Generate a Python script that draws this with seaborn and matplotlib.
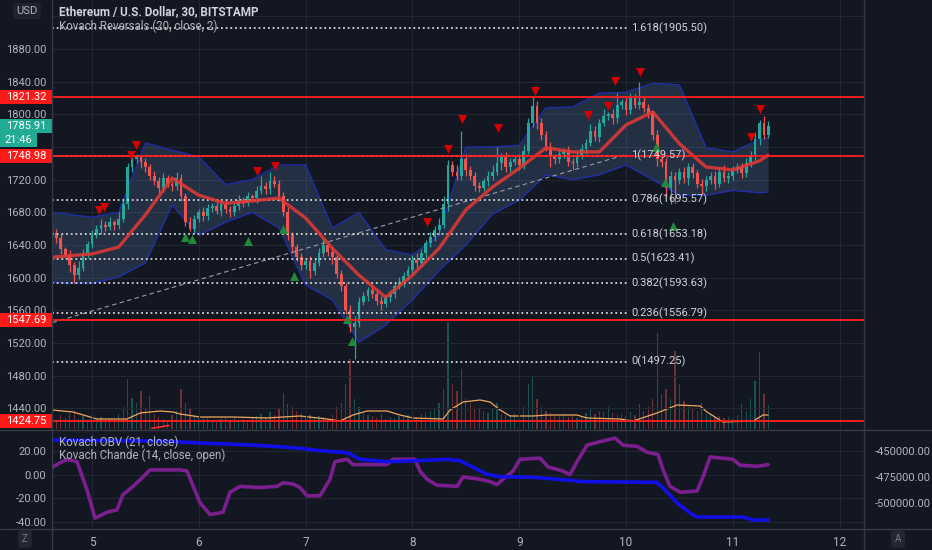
import numpy as np
import pandas as pd
import matplotlib.pyplot as plt
import matplotlib.patches as mpatches
import matplotlib.lines as mlines
from matplotlib.ticker import FormatStrFormatter
import seaborn as sns

# ---- DATA ----
# hourly candles, first one at day 4 15:00
start_day = 4.625
first_open = 1660
closes = [1655, 1648, 1635, 1628, 1615, 1603, 1612, 1630, 1641, 1652, 1660, 1665,
          1662, 1668, 1664, 1672, 1690, 1735, 1745, 1748, 1742, 1735, 1725, 1718,
          1710, 1722, 1715, 1712, 1722, 1700, 1668, 1660, 1672, 1680, 1676, 1685,
          1688, 1682, 1690, 1684, 1680, 1688, 1695, 1692, 1700, 1698, 1706, 1712,
          1708, 1718, 1715, 1700, 1680, 1652, 1638, 1625, 1615, 1620, 1608, 1618,
          1630, 1640, 1632, 1625, 1605, 1590, 1560, 1540, 1545, 1570, 1578, 1585,
          1580, 1572, 1568, 1576, 1580, 1590, 1595, 1602, 1610, 1622, 1618, 1630,
          1642, 1650, 1658, 1665, 1690, 1738, 1730, 1725, 1745, 1732, 1725, 1712,
          1710, 1718, 1725, 1730, 1740, 1748, 1735, 1742, 1745, 1738, 1755, 1790,
          1810, 1790, 1775, 1760, 1748, 1745, 1752, 1755, 1742, 1740, 1750, 1758,
          1765, 1780, 1772, 1790, 1798, 1800, 1796, 1812, 1815, 1805, 1820, 1812,
          1815, 1808, 1800, 1775, 1745, 1742, 1710, 1725, 1720, 1730, 1722, 1735,
          1728, 1715, 1712, 1720, 1725, 1715, 1730, 1722, 1725, 1732, 1735, 1728,
          1740, 1750, 1770, 1790, 1775, 1786]
up_wick = [6, 4, 5, 3, 6, 4, 8, 5, 4, 6, 5, 7,
           4, 6, 3, 8, 5, 6, 8, 4, 2, 5, 4, 6,
           5, 6, 4, 3, 8, 5, 4, 6, 5, 4, 6, 5,
           4, 5, 3, 6, 4, 5, 6, 4, 5, 3, 6, 13,
           5, 12, 6, 4, 5, 6, 4, 3, 5, 4, 6, 5,
           6, 8, 4, 5, 3, 5, 4, 6, 8, 6, 5, 4,
           5, 4, 6, 3, 5, 4, 6, 5, 4, 6, 8, 5,
           4, 6, 5, 8, 10, 6, 5, 8, 35, 6, 5, 4,
           5, 4, 6, 8, 20, 5, 6, 4, 5, 6, 8, 5,
           12, 6, 5, 4, 6, 3, 5, 4, 6, 5, 4, 6,
           5, 8, 6, 4, 8, 3, 6, 14, 4, 8, 6, 5,
           25, 6, 5, 4, 6, 5, 4, 6, 5, 4, 5, 6,
           5, 4, 6, 5, 4, 6, 5, 8, 4, 5, 6, 5,
           6, 5, 8, 3, 8, 6]
low_wick = [8, 5, 6, 4, 8, 10, 5, 4, 6, 5, 4, 6,
            5, 4, 6, 5, 4, 6, 5, 4, 8, 5, 6, 4,
            6, 5, 4, 6, 5, 6, 5, 3, 5, 4, 6, 5,
            5, 4, 6, 5, 6, 4, 5, 6, 4, 5, 6, 4,
            6, 5, 4, 6, 5, 6, 8, 5, 6, 4, 8, 5,
            4, 5, 6, 8, 5, 6, 4, 6, 40, 5, 4, 6,
            5, 6, 8, 4, 6, 5, 4, 6, 5, 4, 6, 5,
            6, 4, 5, 6, 4, 8, 6, 5, 6, 8, 5, 6,
            5, 4, 6, 5, 4, 8, 6, 5, 4, 6, 5, 4,
            5, 8, 6, 5, 12, 6, 4, 6, 5, 8, 4, 5,
            6, 4, 5, 6, 4, 5, 8, 6, 5, 6, 5, 4,
            6, 5, 4, 6, 8, 6, 12, 20, 28, 5, 6, 8,
            6, 5, 10, 6, 5, 6, 4, 5, 6, 5, 4, 6,
            5, 4, 6, 8, 5, 4]
volume = [120, 90, 140, 110, 160, 180, 100, 130, 90, 110, 80, 120,
          90, 110, 80, 150, 220, 500, 310, 260, 380, 200, 330, 150,
          120, 100, 90, 140, 180, 400, 260, 200, 140, 120, 100, 110,
          90, 80, 100, 110, 90, 120, 80, 100, 90, 110, 130, 150,
          120, 170, 140, 200, 360, 250, 220, 180, 160, 120, 140, 110,
          130, 120, 100, 140, 220, 260, 450, 700, 300, 220, 160, 140,
          130, 110, 150, 100, 120, 110, 130, 120, 140, 160, 120, 150,
          170, 180, 200, 260, 400, 1070, 450, 380, 600, 300, 260, 220,
          200, 180, 160, 200, 260, 150, 140, 130, 160, 140, 220, 450,
          520, 300, 220, 180, 160, 140, 130, 150, 120, 140, 110, 130,
          160, 200, 150, 180, 170, 220, 160, 140, 150, 130, 170, 140,
          250, 180, 220, 300, 960, 350, 400, 300, 780, 450, 280, 220,
          200, 180, 260, 150, 140, 120, 130, 110, 120, 100, 140, 250,
          180, 300, 480, 770, 350, 240]

# reversal band (20, close, 2)
band_days = [4.63, 4.75, 5.0, 5.25, 5.5, 5.75, 6.0, 6.25, 6.5, 6.75, 7.0, 7.25, 7.5, 7.75, 8.0,
             8.25, 8.5, 8.75, 9.0, 9.25, 9.5, 9.75, 10.0, 10.25, 10.5, 10.75, 11.0, 11.25, 11.33]
band_upper = [1680, 1678, 1674, 1680, 1765, 1756, 1748, 1714, 1720, 1738, 1738, 1661, 1680, 1634, 1628,
              1652, 1760, 1760, 1762, 1808, 1809, 1826, 1827, 1838, 1836, 1759, 1754, 1769, 1771]
band_lower = [1595, 1593, 1593, 1601, 1618, 1689, 1652, 1668, 1680, 1661, 1591, 1573, 1521, 1542, 1573,
              1609, 1640, 1678, 1695, 1726, 1720, 1726, 1738, 1720, 1701, 1701, 1707, 1704, 1705]
band_ma = [1625, 1626.5, 1629, 1637.5, 1677, 1722, 1701, 1691, 1694, 1697.5, 1673, 1636, 1603, 1576, 1603,
           1636, 1683, 1711, 1734, 1759, 1754, 1754, 1787, 1803, 1764, 1735.5, 1732, 1743, 1750]

# volume moving average
volma_days = [4.625, 4.822, 5.047, 5.328, 5.45, 5.637, 5.758, 5.824, 6.011, 6.32,
              6.638, 6.788, 6.948, 7.2, 7.322, 7.444, 7.575, 7.762, 7.884, 8.006,
              8.287, 8.352, 8.474, 8.633, 8.727, 8.82, 8.914, 9.129, 9.26, 9.541,
              9.635, 9.944, 10.066, 10.29, 10.478, 10.693, 10.758, 10.908, 11.19, 11.283, 11.33]
volma_vals = [190, 170, 100, 100, 160, 180, 170, 150, 120, 120,
              110, 120, 130, 100, 80, 140, 180, 180, 140, 110,
              100, 190, 270, 290, 270, 190, 130, 130, 140, 140,
              110, 100, 80, 160, 240, 230, 170, 70, 80, 140, 140]

# Kovach Chande (14, close, open)
chande_days = [4.625, 4.7, 4.766, 4.86, 4.953, 5.028, 5.14, 5.234, 5.29, 5.384,
               5.478, 5.543, 5.824, 5.89, 6.011, 6.105, 6.227, 6.292, 6.386, 6.573,
               6.732, 6.788, 6.882, 6.948, 7.013, 7.135, 7.228, 7.275, 7.388, 7.444,
               7.762, 7.818, 8.024, 8.071, 8.137, 8.23, 8.418, 8.474, 8.633, 8.727,
               8.792, 8.848, 8.942, 9.007, 9.195, 9.27, 9.41, 9.476, 9.541, 9.635,
               9.757, 9.897, 9.972, 10.103, 10.197, 10.3, 10.347, 10.412, 10.506, 10.665,
               10.721, 10.787, 11.002, 11.067, 11.227, 11.33]
chande_vals = [6, 10, 13, 11, -13, -37, -32, -30, -17, -10,
               -2, 4, 4, 3, -24, -34, -32, -15, -10, -11,
               -10, -7, -8, -11, -18, -18, -4, 11, 13, 8.5,
               8.5, 13, 13, 3, -4, -9, -10, -2, -4, -6,
               -8.5, -4, 3, 13, 14, 6.5, 3, 0, 11, 25,
               28, 31, 25, 24, 19, 17, 4, -10, -15, -14,
               -2, 15, 13, 8, 7, 8.5]

# Kovach OBV (21, close)
obv_days = [4.625, 5.637, 6.011, 6.479, 6.76, 6.948, 7.135, 7.388, 7.51, 7.762,
            8.043, 8.324, 8.446, 8.567, 8.699, 8.82, 9.129, 9.447, 9.597, 10.29,
            10.384, 10.478, 10.6, 10.665, 11.096, 11.19, 11.33]
obv_vals = [-439100, -440100, -442000, -443900, -445600, -447100, -449400, -451300, -457700, -460000,
            -459000, -457700, -459000, -465400, -472100, -474400, -475000, -477600, -479200, -479800,
            -489100, -499700, -509300, -513200, -513200, -516100, -516100]

# reversal markers
rev_down_days = [5.066, 5.112, 5.365, 5.412, 6.545, 6.713, 8.137, 8.333, 8.464,
                 8.801, 9.148, 9.644, 9.831, 9.897, 10.131, 11.17, 11.255]
rev_down_prices = [1683, 1686.5, 1750, 1762, 1730.5, 1736.5, 1668, 1757.5, 1794,
                   1783, 1828.5, 1799, 1810, 1841, 1852, 1772, 1806.5]
rev_up_days = [5.871, 5.936, 6.461, 6.788, 6.891, 7.388, 7.434, 10.281, 10.365, 10.44]
rev_up_prices = [1650, 1647, 1645, 1659.5, 1602, 1549.5, 1522.5, 1760, 1717, 1663]

# fib retracement
fib_levels = ["1.618", "1", "0.786", "0.618", "0.5", "0.382", "0.236", "0"]
fib_prices = [1905.50, 1749.57, 1695.57, 1653.18, 1623.41, 1593.63, 1556.79, 1497.25]
trend_days = [4.63, 9.98]
trend_prices = [1545, 1750]
# small red drawing near the volume baseline
stub_days = [5.56, 5.72]
stub_prices = [1415.5, 1419]

# horizontal levels and axis boxes
level_prices = [1821.32, 1748.98, 1547.69, 1424.75]
last_price = 1785.91
countdown = "21:46"
day_ticks = [5, 6, 7, 8, 9, 10, 11, 12]
price_ticks = list(range(1440, 1921, 40))
hidden_ticks = [1760, 1920]   # covered by the boxes / USD button

# ---- STYLE ----
BG = "#131722"
GRID = "#232733"
SEP = "#363a45"
TXT = "#b2b5be"
UP = "#26a69a"
DOWN = "#ef5350"

sns.set_theme(style="darkgrid", rc={
    "figure.facecolor": BG, "axes.facecolor": BG, "axes.edgecolor": BG,
    "grid.color": GRID, "grid.linewidth": 0.8, "text.color": TXT,
    "xtick.color": TXT, "ytick.color": TXT})
plt.rcParams["font.family"] = ["Roboto", "DejaVu Sans"]

W, H = 932, 550
fig = plt.figure(figsize=(9.32, 5.5), dpi=100)
ax = fig.add_axes([52 / W, 1 - 429 / H, 812 / W, 429 / H])
ax2 = fig.add_axes([52 / W, 1 - 528 / H, 812 / W, 98 / H])
xlim = (4.6255, 12.228)

# ---- PRICE PANEL ----
n = len(closes)
days = start_day + np.arange(n) / 24
cl = np.array(closes, dtype=float)
op = np.array([first_open] + closes[:-1], dtype=float)
highs = np.maximum(op, cl) + np.array(up_wick)
lows = np.minimum(op, cl) - np.array(low_wick)
cols = np.where(cl >= op, UP, DOWN)

# volume on a hidden twin axis, behind the candles
axv = ax.twinx()
axv.bar(days, volume, width=0.28 / 24, color=cols, alpha=0.42, linewidth=0)
sns.lineplot(x=volma_days, y=volma_vals, ax=axv, color="#f2a65a", linewidth=0.9)
axv.set_ylim(0, 4290)
axv.set_yticks([])
axv.grid(False)
axv.set_ylabel("")
ax.set_zorder(axv.get_zorder() + 1)
ax.patch.set_visible(False)

# band
ax.fill_between(band_days, band_lower, band_upper, color="#4f6f9c", alpha=0.28, linewidth=0, zorder=1)
ax.plot(band_days, band_upper, color="#1f2fa8", linewidth=1, zorder=1.5)
ax.plot(band_days, band_lower, color="#1f2fa8", linewidth=1, zorder=1.5)

# candles
ax.vlines(days, lows, highs, colors=cols, linewidth=0.9, zorder=3)
ax.bar(days, np.maximum(np.abs(cl - op), 0.8), bottom=np.minimum(op, cl), width=0.62 / 24,
       color=cols, linewidth=0, zorder=3.1)

# moving average
sns.lineplot(x=band_days, y=band_ma, ax=ax, color="#e53935", linewidth=2.4, alpha=0.85, zorder=4)

# fib lines and labels
yt = ax.get_yaxis_transform()
for lvl, p in zip(fib_levels, fib_prices):
    ax.plot([0, 0.709], [p, p], transform=yt, color="#d6d6d6", linewidth=1.3,
            linestyle=(0, (1, 1.6)), zorder=3.5)
    ax.text(0.713, p, f"{lvl}({p:.2f})", transform=yt, va="center", ha="left",
            fontsize=8, color="#d1d4dc", zorder=6)
ax.plot(trend_days, trend_prices, color="#9a9ea8", linewidth=0.8, linestyle=(0, (4, 3)), zorder=3.4)
ax.plot(stub_days, stub_prices, color="#ff2a2a", linewidth=1.2, zorder=4)

# red horizontal levels
for p in level_prices:
    ax.axhline(p, color="#ff1f1f", linewidth=1.3, zorder=4.5)

# reversal triangles
sns.scatterplot(x=rev_down_days, y=rev_down_prices, ax=ax, marker="v", s=42,
                color="#d50000", linewidth=0, zorder=5)
sns.scatterplot(x=rev_up_days, y=rev_up_prices, ax=ax, marker="^", s=42,
                color="#1f8b3a", linewidth=0, zorder=5)

ax.set_xlim(*xlim)
ax.set_ylim(1414.7, 1940)
ax.set_xticks(day_ticks)
ax.set_yticks(price_ticks)
ax.set_yticklabels(["" if t in hidden_ticks else f"{t:.2f}" for t in price_ticks])
ax.tick_params(axis="x", labelbottom=False, length=0)
ax.tick_params(axis="y", length=0, pad=4, labelsize=8)
ax.set_xlabel("")
ax.set_ylabel("")

# axis price boxes
box_h = 14 * 1.2245
for p in level_prices:
    ax.add_patch(mpatches.Rectangle((-52 / 812, p - box_h / 2), 52 / 812, box_h, transform=yt,
                                    facecolor="#ff1a1a", edgecolor="none", clip_on=False, zorder=7))
    ax.text(-26 / 812, p, f"{p:.2f}", transform=yt, ha="center", va="center",
            fontsize=8, color="white", clip_on=False, zorder=8)
ax.add_patch(mpatches.Rectangle((-52 / 812, last_price - box_h / 2), 52 / 812, box_h, transform=yt,
                                facecolor="#22ab94", edgecolor="none", clip_on=False, zorder=7))
ax.text(-26 / 812, last_price, f"{last_price:.2f}", transform=yt, ha="center", va="center",
        fontsize=8, color="white", clip_on=False, zorder=8)
cd_price = last_price - box_h - 0.5
ax.add_patch(mpatches.Rectangle((-52 / 812, cd_price - box_h / 2), 37 / 812, box_h, transform=yt,
                                facecolor="#22ab94", edgecolor="none", clip_on=False, zorder=7))
ax.text(-33.5 / 812, cd_price, countdown, transform=yt, ha="center", va="center",
        fontsize=8, color="white", clip_on=False, zorder=8)

# legend texts
ax.text(7 / 812, 1 - 12 / 429, "Ethereum / U.S. Dollar, 30, BITSTAMP", transform=ax.transAxes,
        va="center", fontsize=8.5, fontweight="semibold", color="#d1d4dc", zorder=8)
ax.text(7 / 812, 1 - 26 / 429, "Kovach Reversals (20, close, 2)", transform=ax.transAxes,
        va="center", fontsize=8.3, color=TXT, zorder=8)

# ---- INDICATOR PANEL ----
ax2r = ax2.twinx()
sns.lineplot(x=chande_days, y=chande_vals, ax=ax2, color="#7b1f8e", linewidth=2.6)
sns.lineplot(x=obv_days, y=obv_vals, ax=ax2r, color="#1010e6", linewidth=2.6)
ax2.set_xlim(*xlim)
ax2.set_ylim(-45.4, 37.9)
ax2r.set_ylim(-523750, -429500)
ax2.set_xticks(day_ticks)
ax2.set_xticklabels([str(d) for d in day_ticks])
ax2.set_yticks([-40, -20, 0, 20])
ax2r.set_yticks([-500000, -475000, -450000])
ax2.yaxis.set_major_formatter(FormatStrFormatter("%.2f"))
ax2r.yaxis.set_major_formatter(FormatStrFormatter("%.2f"))
ax2.tick_params(axis="y", length=0, pad=4, labelsize=8)
ax2.tick_params(axis="x", length=0, pad=6, labelsize=8.5)
ax2r.tick_params(axis="y", length=0, pad=8, labelsize=8)
ax2r.grid(False)
for a in (ax2, ax2r):
    a.set_xlabel("")
    a.set_ylabel("")
# legend texts on top of both indicator lines
fig.text(59 / W, 1 - 442 / H, "Kovach OBV (21, close)", va="center", fontsize=8.3,
         color=TXT, zorder=10)
fig.text(59 / W, 1 - 455 / H, "Kovach Chande (14, close, open)", va="center", fontsize=8.3,
         color=TXT, zorder=10)

for a in (ax, axv, ax2, ax2r):
    for s in a.spines.values():
        s.set_visible(False)

# panel separators
for py in (429.5, 528.5):
    fig.add_artist(mlines.Line2D([0, 1], [1 - py / H] * 2, color=SEP, linewidth=1))
for px in (52, 864):
    fig.add_artist(mlines.Line2D([px / W] * 2, [0, 1], color=SEP, linewidth=1))

# buttons
fig.text(27 / W, 1 - 11 / H, "USD", ha="center", va="center", fontsize=8, color=TXT,
         bbox=dict(boxstyle="round,pad=0.3", facecolor="#1f232e", edgecolor="none"), zorder=10)
fig.text(25 / W, 1 - 539 / H, "Z", ha="center", va="center", fontsize=7, color="#787b86",
         bbox=dict(boxstyle="round,pad=0.4", facecolor="#232733", edgecolor="none"))
fig.text(898 / W, 1 - 539 / H, "A", ha="center", va="center", fontsize=7, color="#787b86",
         bbox=dict(boxstyle="round,pad=0.4", facecolor="#232733", edgecolor="none"))

fig.savefig("out.png", dpi=100, facecolor=BG)
